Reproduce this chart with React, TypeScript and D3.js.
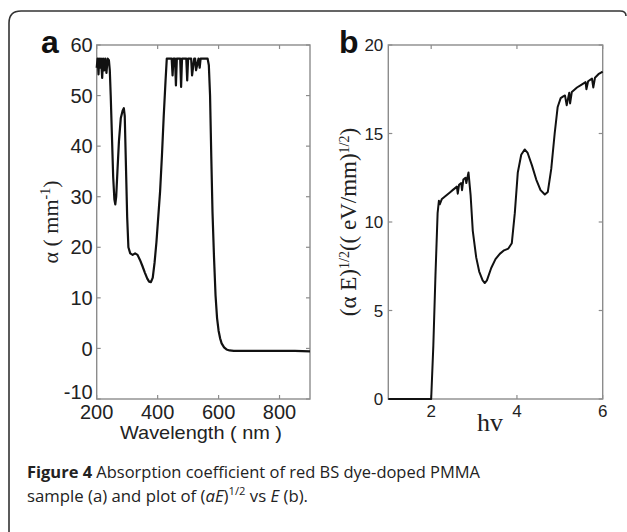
import React from "react";
import * as d3 from "d3";

// Panel a: absorption coefficient vs wavelength
const wavelength = [200, 203, 206, 208, 211, 214, 218, 221, 225, 228, 232, 236, 240, 243, 246, 250, 254, 258, 261, 264, 268, 273, 279, 285, 289, 292, 296, 300, 304, 310, 318, 326, 334, 342, 350, 358, 366, 372, 378, 384, 390, 396, 402, 408, 414, 420, 426, 430, 436, 446, 449, 452, 457, 460, 463, 470, 474, 477, 480, 484, 488, 494, 497, 500, 506, 510, 513, 520, 523, 526, 534, 538, 541, 548, 556, 564, 568, 572, 576, 580, 585, 590, 595, 600, 605, 610, 618, 626, 636, 650, 700, 750, 800, 850, 900];
const alpha = [55.5, 57.3, 54.2, 57.3, 55.5, 57.3, 53.5, 57.3, 55, 57.3, 54.5, 57.3, 57, 55, 50, 42, 34, 29.5, 28.5, 30, 35, 41, 45.5, 47, 47.5, 46, 36, 26, 20, 18.8, 18.5, 18.8, 18.5, 17.5, 16.3, 15, 13.8, 13.2, 13.1, 14, 17, 21, 26, 31, 38, 46, 53, 57.3, 57.3, 57.3, 54, 57.3, 57.3, 52, 57.3, 57.3, 57.3, 51.7, 57.3, 57.3, 57.3, 57.3, 53, 57.3, 57.3, 57.3, 54, 57.3, 57.3, 55, 57.3, 55.5, 57.3, 57.3, 57.3, 57.3, 56, 50, 38, 27, 18, 10.5, 6, 3.5, 2, 1, 0.2, -0.2, -0.4, -0.5, -0.5, -0.5, -0.5, -0.5, -0.6];

// Panel b: (alpha E)^1/2 vs photon energy
const energy = [1, 1.5, 1.9, 2.0, 2.05, 2.1, 2.15, 2.18, 2.2, 2.25, 2.3, 2.35, 2.4, 2.45, 2.5, 2.55, 2.6, 2.62, 2.65, 2.7, 2.72, 2.75, 2.8, 2.82, 2.87, 2.92, 2.97, 3.05, 3.12, 3.2, 3.25, 3.3, 3.4, 3.5, 3.6, 3.7, 3.8, 3.88, 3.95, 4.02, 4.1, 4.18, 4.25, 4.35, 4.45, 4.55, 4.65, 4.72, 4.8, 4.88, 4.95, 5.02, 5.08, 5.12, 5.16, 5.22, 5.24, 5.28, 5.4, 5.5, 5.6, 5.62, 5.66, 5.75, 5.78, 5.82, 5.9, 6.0];
const sqrtAE = [0, 0, 0, 0, 3, 7, 10.5, 11.2, 11.0, 11.3, 11.4, 11.5, 11.6, 11.7, 11.8, 11.9, 12.0, 11.6, 12.1, 12.2, 11.8, 12.4, 12.5, 12.2, 12.8, 11.5, 9.5, 8.0, 7.2, 6.7, 6.55, 6.7, 7.4, 7.9, 8.2, 8.4, 8.5, 8.8, 10.5, 12.8, 13.8, 14.1, 13.9, 13.2, 12.4, 11.8, 11.55, 11.7, 13.0, 15.0, 16.5, 17.0, 17.1, 17.15, 16.6, 17.3, 16.7, 17.35, 17.6, 17.75, 17.9, 17.5, 17.95, 18.1, 17.6, 18.15, 18.35, 18.5];

const aXTicks = [200, 400, 600, 800];
const aYTicks = [-10, 0, 10, 20, 30, 40, 50, 60];
const bXTicks = [2, 4, 6];
const bYTicks = [0, 5, 10, 15, 20];

const frameColor = "#8c8c8c";
const tickLen = 4;

function Frame({ x, y, xTicks, yTicks, xBase, yGap, fontSize, family, bottomLift }: any) {
  const [x0, x1] = x.range();
  const [y0, y1] = y.range(); // y0 bottom, y1 top
  const yMin = y.domain()[0];
  return (
    <g>
      <rect x={x0} y={y1} width={x1 - x0} height={y0 - y1} fill="none" stroke={frameColor} strokeWidth={1.4} />
      {xTicks.map((t: number) => (
        <g key={"xt" + t}>
          <line x1={x(t)} x2={x(t)} y1={y0} y2={y0 - tickLen} stroke={frameColor} strokeWidth={1.2} />
          <line x1={x(t)} x2={x(t)} y1={y1} y2={y1 + tickLen} stroke={frameColor} strokeWidth={1.2} />
          <text x={x(t)} y={xBase} textAnchor="middle" fontSize={fontSize} fontFamily={family} fill="#222">{String(t)}</text>
        </g>
      ))}
      {yTicks.map((t: number) => (
        <g key={"yt" + t}>
          <line x1={x0} x2={x0 + tickLen} y1={y(t)} y2={y(t)} stroke={frameColor} strokeWidth={1.2} />
          <line x1={x1} x2={x1 - tickLen} y1={y(t)} y2={y(t)} stroke={frameColor} strokeWidth={1.2} />
          <text x={x0 - yGap} y={y(t) - (t === yMin ? bottomLift : 0)} dy="0.36em" textAnchor="end" fontSize={fontSize} fontFamily={family} fill="#222">{String(t)}</text>
        </g>
      ))}
    </g>
  );
}

export default function App() {
  const W = 627, H = 532;
  const xa = d3.scaleLinear().domain([200, 900]).range([96.7, 310]);
  const ya = d3.scaleLinear().domain([-10, 60]).range([399, 45]);
  const xb = d3.scaleLinear().domain([1, 6]).range([388.3, 602.7]);
  const yb = d3.scaleLinear().domain([0, 20]).range([399, 45]);

  const lineA = d3.line<number>().x((_, i) => xa(wavelength[i])).y((d) => ya(d));
  const lineB = d3.line<number>().x((_, i) => xb(energy[i])).y((d) => yb(d));

  const sans = "'Liberation Sans', Arial, sans-serif";
  const serif = "'Liberation Serif', 'Times New Roman', serif";
  const cap = "'Open Sans', 'Noto Sans', sans-serif";

  return (
    <svg width={W} height={H} style={{ position: "absolute", left: 0, top: 0, background: "#fff" }}>
      <rect x={0} y={0} width={W} height={H} fill="#fff" />
      {/* outer rounded box */}
      <path d={`M9,540 L9,23 Q9,11 21,11 L620,11 Q626,11 626,16`} fill="none" stroke="#333" strokeWidth={1.6} />

      {/* panel a */}
      <text x={41} y={53} fontSize={32} fontWeight="bold" fontFamily={sans} fill="#111">a</text>
      <Frame x={xa} y={ya} xTicks={aXTicks} yTicks={aYTicks} xBase={419} yGap={4} fontSize={20} family={sans} bottomLift={7} />
      <path d={lineA(alpha) || ""} fill="none" stroke="#111" strokeWidth={2.2} strokeLinejoin="round" />
      <text x={201} y={439} textAnchor="middle" fontSize={19} fontFamily={sans} fill="#222" textLength={162} lengthAdjust="spacingAndGlyphs">Wavelength ( nm )</text>
      <text transform="translate(58,222) rotate(-90)" textAnchor="middle" fontSize={22} fontFamily={serif} fill="#222">
        α ( mm<tspan dy="-8" fontSize={14}>-1</tspan><tspan dy="8">)</tspan>
      </text>

      {/* panel b */}
      <text x={339} y={53} fontSize={32} fontWeight="bold" fontFamily={sans} fill="#111">b</text>
      <Frame x={xb} y={yb} xTicks={bXTicks} yTicks={bYTicks} xBase={417} yGap={5} fontSize={17} family={sans} bottomLift={0} />
      <path d={lineB(sqrtAE) || ""} fill="none" stroke="#111" strokeWidth={2} strokeLinejoin="round" />
      <text x={490} y={431} textAnchor="middle" fontSize={26} fontFamily={serif} fill="#222">hv</text>
      <text transform="translate(356,222) rotate(-90)" textAnchor="middle" fontSize={23} fontFamily={serif} fill="#222">
        (α E)<tspan dy="-7" fontSize={14}>1/2</tspan><tspan dy="7">(( eV/mm)</tspan><tspan dy="-7" fontSize={14}>1/2</tspan><tspan dy="7">)</tspan>
      </text>

      {/* caption */}
      <text x={27} y={478} fontSize={16.5} fontFamily={cap} fill="#222" textLength={453} lengthAdjust="spacingAndGlyphs">
        <tspan fontWeight="bold">Figure 4</tspan> Absorption coefficient of red BS dye-doped PMMA
      </text>
      <text x={27} y={502} fontSize={16.5} fontFamily={cap} fill="#222" textLength={281} lengthAdjust="spacingAndGlyphs">
        sample (a) and plot of (<tspan fontStyle="italic">aE</tspan>)<tspan dy="-7" fontSize={11}>1/2</tspan><tspan dy="7"> vs </tspan><tspan fontStyle="italic">E</tspan> (b).
      </text>
    </svg>
  );
}
